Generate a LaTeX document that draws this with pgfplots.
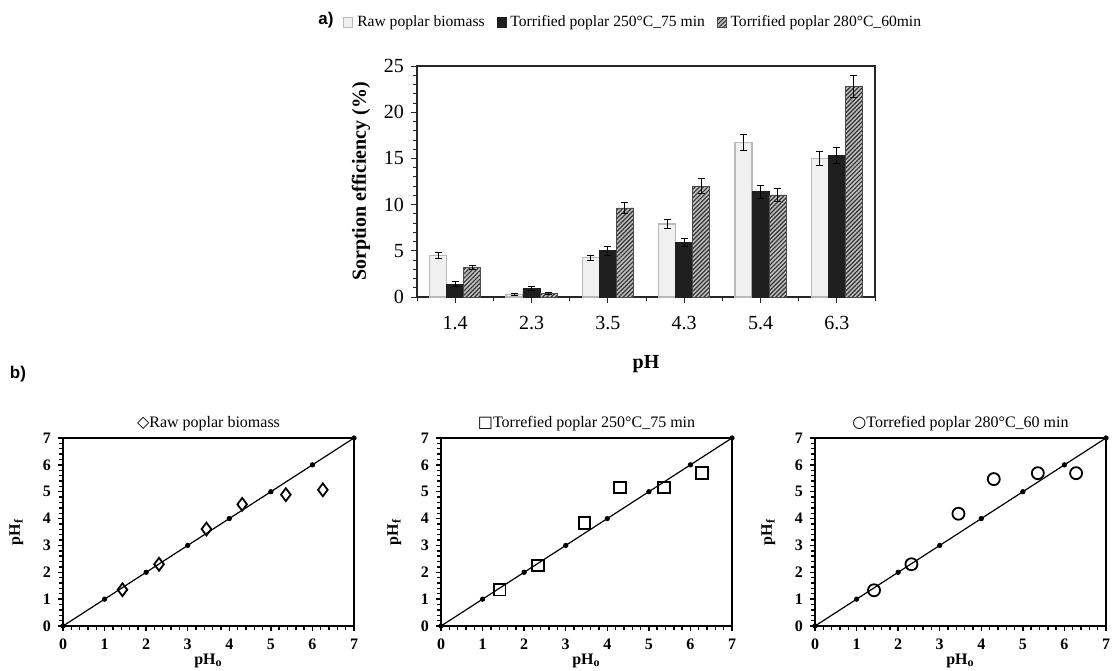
\documentclass[border=0pt]{standalone}
\usepackage{fontspec}
\setmainfont{Liberation Serif}
\setsansfont{Liberation Sans}
\newfontfamily\sym{DejaVu Sans}
\usepackage{pgfplots}
\pgfplotsset{compat=1.18}
\usetikzlibrary{patterns.meta}
\begin{document}
\begin{tikzpicture}
\path[use as bounding box] (0,0) rectangle (556pt,335pt);
\pgfplotsset{
 sc/.style={anchor=south west, scale only axis, width=145.5pt, height=94pt,
  xmin=0,xmax=7,ymin=0,ymax=7, xtick={0,...,7}, ytick={0,...,7},
  minor tick num=4, tick pos=left, tick align=outside, clip=false,
  axis line style={line width=1.1pt},
  major tick length=2.5pt, minor tick length=1.8pt,
  tick style={line width=0.7pt, black},
  /pgf/number format/assume math mode=true,
  tick label style={font=\bfseries\fontsize{8}{9}\selectfont},
  xticklabel style={yshift=-0.5pt},
  xlabel={\bfseries pH\textsubscript{o}}, ylabel={\bfseries pH\textsubscript{f}},
  label style={font=\fontsize{8}{9}\selectfont},
  xlabel style={yshift=5pt}, ylabel style={yshift=3pt},
  title style={font=\fontsize{8}{9}\selectfont, yshift=-6pt}},
 diag/.style={black, line width=0.6pt, mark=*, mark size=1pt},
 pts/.style={only marks, black, mark size=3.2pt, mark options={line width=0.9pt, fill=white}}
}
% ---------------- a) bar chart ----------------
\begin{axis}[at={(208.5pt,186.5pt)}, anchor=south west, scale only axis,
 width=229pt, height=115.5pt,
 xmin=-0.5, xmax=5.5, ymin=0, ymax=25,
 xtick={0,...,5}, xticklabels={1.4,2.3,3.5,4.3,5.4,6.3},
 minor xtick={-0.5,0.5,...,5.5},
 ytick={0,5,...,25}, minor ytick={1,2,3,4,6,7,8,9,11,12,13,14,16,17,18,19,21,22,23,24},
 tick pos=left, tick align=outside,
 major tick length=3pt, minor tick length=2pt,
 axis line style={gray!30!black, line width=0.6pt},
 tick style={gray!30!black, line width=0.4pt},
 tick label style={font=\fontsize{10}{12}\selectfont},
 /pgf/number format/assume math mode=true,
 xticklabel style={yshift=-3pt},
 ylabel={\bfseries Sorption efficiency (\%)}, xlabel={\bfseries pH},
 label style={font=\fontsize{10}{12}\selectfont},
 xlabel style={yshift=-6pt},
 ybar, bar width=0.223,
 error bars/y dir=both, error bars/y explicit,
 error bars/error bar style={black, line width=0.4pt},
 error bars/error mark options={rotate=90, mark size=1.8pt, black, line width=0.4pt},
 legend style={at={(axis description cs:0.474,1.19)}, anchor=center, draw=none, fill=none,
  font=\fontsize{7.8}{9}\selectfont, legend columns=3,
  /tikz/every even column/.append style={column sep=4pt}, inner sep=0pt},
 legend image code/.code={\draw[#1] (0pt,-2.5pt) rectangle (4.5pt,2.5pt);}
]
\addplot[bar shift=-0.223, fill=gray!12, draw=gray!55, line width=0.6pt]
 coordinates {(0,4.5) +- (0,0.3) (1,0.25) +- (0,0.12) (2,4.25) +- (0,0.3)
  (3,7.9) +- (0,0.45) (4,16.7) +- (0,0.85) (5,15.0) +- (0,0.8)};
\addlegendentry{Raw poplar biomass}
\addplot[bar shift=0, fill=black!88, draw=black!88]
 coordinates {(0,1.4) +- (0,0.25) (1,0.95) +- (0,0.2) (2,5.0) +- (0,0.45)
  (3,5.9) +- (0,0.45) (4,11.4) +- (0,0.7) (5,15.3) +- (0,0.85)};
\addlegendentry{Torrified poplar 250°C\_75 min}
\addplot[bar shift=0.223, fill=gray!50, draw=gray!60!black, line width=0.3pt,
 postaction={pattern={Lines[angle=45,distance=1.5pt,line width=0.6pt]}, pattern color=gray!40!black}]
 coordinates {(0,3.2) +- (0,0.25) (1,0.4) +- (0,0.15) (2,9.65) +- (0,0.6)
  (3,12.0) +- (0,0.8) (4,11.05) +- (0,0.7) (5,22.8) +- (0,1.2)};
\addlegendentry{Torrified poplar 280°C\_60min}
\end{axis}
\node[font=\sffamily\bfseries\fontsize{8.5}{9}\selectfont] at (163pt,325pt) {a)};
\node[font=\sffamily\bfseries\fontsize{8.5}{9}\selectfont] at (9pt,148pt) {b)};
% ---------------- b) scatter plots ----------------
\begin{axis}[sc, at={(31.5pt,22pt)}, title={{\sym ◇}Raw poplar biomass}]
\addplot[diag] coordinates {(0,0)(1,1)(2,2)(3,3)(4,4)(5,5)(6,6)(7,7)};
\addplot[pts, mark=diamond] coordinates {(1.43,1.35)(2.31,2.30)(3.45,3.61)(4.31,4.53)(5.36,4.89)(6.25,5.07)};
\end{axis}
\begin{axis}[sc, at={(220.5pt,22pt)}, title={{\sym □}Torrefied poplar 250°C\_75 min}]
\addplot[diag] coordinates {(0,0)(1,1)(2,2)(3,3)(4,4)(5,5)(6,6)(7,7)};
\addplot[pts, mark=square, mark size=2.9pt] coordinates {(1.41,1.35)(2.33,2.25)(3.45,3.83)(4.31,5.16)(5.36,5.16)(6.28,5.69)};
\end{axis}
\begin{axis}[sc, at={(407.5pt,22pt)}, title={{\sym ○}Torrefied poplar 280°C\_60 min}]
\addplot[diag] coordinates {(0,0)(1,1)(2,2)(3,3)(4,4)(5,5)(6,6)(7,7)};
\addplot[pts, mark=o, mark size=3pt] coordinates {(1.42,1.33)(2.32,2.30)(3.45,4.18)(4.30,5.47)(5.36,5.69)(6.28,5.69)};
\end{axis}
\end{tikzpicture}
\end{document}
